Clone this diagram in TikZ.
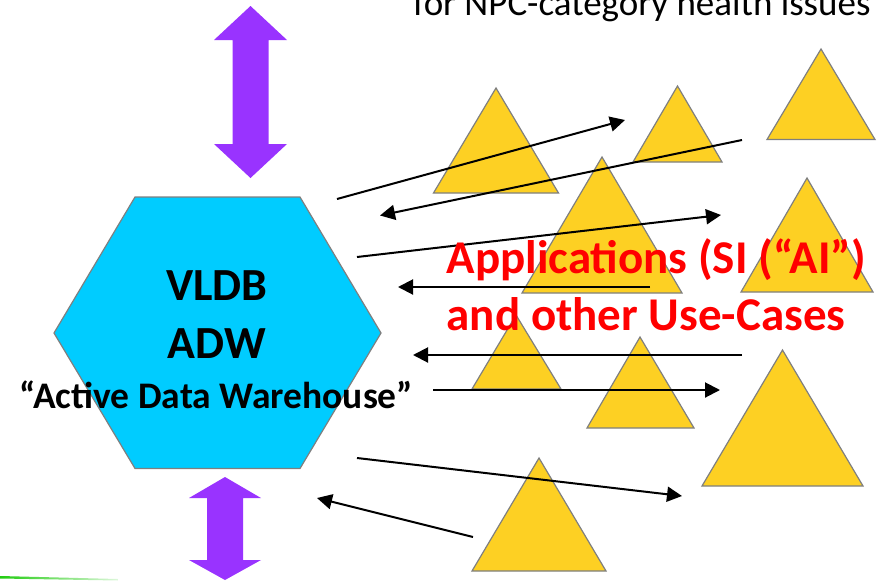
\documentclass[tikz,border=0pt]{standalone}
\usepackage{fontspec}
\setmainfont{Carlito}
\usetikzlibrary{arrows.meta}

\definecolor{hexfill}{HTML}{00CCFF}
\definecolor{trifill}{HTML}{FDD023}
\definecolor{shapeedge}{HTML}{7F7F7F}
\definecolor{flowpurple}{HTML}{9933FF}
\definecolor{apptext}{HTML}{FF0000}
\definecolor{rulegreen}{HTML}{22CC11}

\tikzset{
  appshape/.style={fill=trifill, draw=shapeedge, line width=1.2pt, line join=miter},
  dbshape/.style={fill=hexfill, draw=shapeedge, line width=1.2pt},
  bigflow/.style={fill=flowpurple, draw=none},
  conn/.style={draw=black, line width=2pt, -{Triangle[length=15pt,width=15pt]}},
  dblabel/.style={inner sep=0pt, anchor=base, font=\bfseries\fontsize{46}{50}\selectfont},
  adwlabel/.style={inner sep=0pt, anchor=base, font=\bfseries\fontsize{37.5}{40}\selectfont},
  applabel/.style={inner sep=0pt, anchor=base west, text=apptext, font=\bfseries\fontsize{47}{52}\selectfont},
  toplabel/.style={inner sep=0pt, anchor=base west, font=\fontsize{37}{40}\selectfont}
}

\begin{document}
\begin{tikzpicture}[x=1pt, y=-1pt]
\useasboundingbox (0,0) rectangle (878,581);

% heading line, partly above the frame
\node[toplabel] (heading) at (413,15) {for NPC-category health issues};

% two-way data flows above and below the warehouse
\path[bigflow] (250.5,6) -- (287,40) -- (268.5,40) -- (268.5,144) -- (287,144)
  -- (250.5,178) -- (214,144) -- (232.5,144) -- (232.5,40) -- (214,40) -- cycle;
\path[bigflow] (225,477) -- (261,498) -- (243,498) -- (243,560) -- (261,560)
  -- (225,580) -- (189,560) -- (207,560) -- (207,498) -- (189,498) -- cycle;

% green rule at the lower left
\shade[left color=rulegreen, right color=rulegreen!15]
  (0,576) -- (118,579) -- (118,580.5) -- (0,578.5) -- cycle;

% the warehouse
\path[dbshape] (135,197) -- (300,197) -- (381,333) -- (300,468.5)
  -- (135,468.5) -- (54,333) -- cycle;
\node[dblabel] (vldb) at (217,300) {VLDB};
\node[dblabel] (adw) at (217,358) {ADW};
\node[adwlabel] (adwname) at (216.5,408) {“Active Data Warehouse”};

% applications
\path[appshape] (496,88) -- (558.5,193) -- (433.5,193) -- cycle;
\path[appshape] (677.5,86) -- (722,162) -- (633,162) -- cycle;
\path[appshape] (821,49) -- (875,139.5) -- (767,139.5) -- cycle;
\path[appshape] (602,157) -- (682,293) -- (522,293) -- cycle;
\path[appshape] (807,178) -- (873,292) -- (741,292) -- cycle;
\path[appshape] (516,315) -- (561,389) -- (472,389) -- cycle;
\path[appshape] (640,337) -- (694,428) -- (587,428) -- cycle;
\path[appshape] (782.5,350) -- (863,486) -- (702,486) -- cycle;
\path[appshape] (539,458) -- (606,571) -- (472,571) -- cycle;

% connector end points
\coordinate (a1s) at (337,199);   \coordinate (a1e) at (625,120);
\coordinate (a2s) at (742,140);   \coordinate (a2e) at (380,215.5);
\coordinate (a3s) at (357,257);   \coordinate (a3e) at (721,215);
\coordinate (a4s) at (650,287);   \coordinate (a4e) at (398,287);
\coordinate (a5s) at (742,355);   \coordinate (a5e) at (413,355);
\coordinate (a6s) at (433,390);   \coordinate (a6e) at (720,390);
\coordinate (a7s) at (357,458);   \coordinate (a7e) at (682,496);
\coordinate (a8s) at (473,537);   \coordinate (a8e) at (317,498);

\draw[conn] (a1s) -- (a1e);
\draw[conn] (a2s) -- (a2e);
\draw[conn] (a3s) -- (a3e);
\draw[conn] (a4s) -- (a4e);
\draw[conn] (a5s) -- (a5e);
\draw[conn] (a6s) -- (a6e);
\draw[conn] (a7s) -- (a7e);
\draw[conn] (a8s) -- (a8e);

\node[applabel] (apps) at (446.5,273) {Applications (SI (“AI”)};
\node[applabel] (usecases) at (446.5,330) {and other Use-Cases};
\end{tikzpicture}
\end{document}
